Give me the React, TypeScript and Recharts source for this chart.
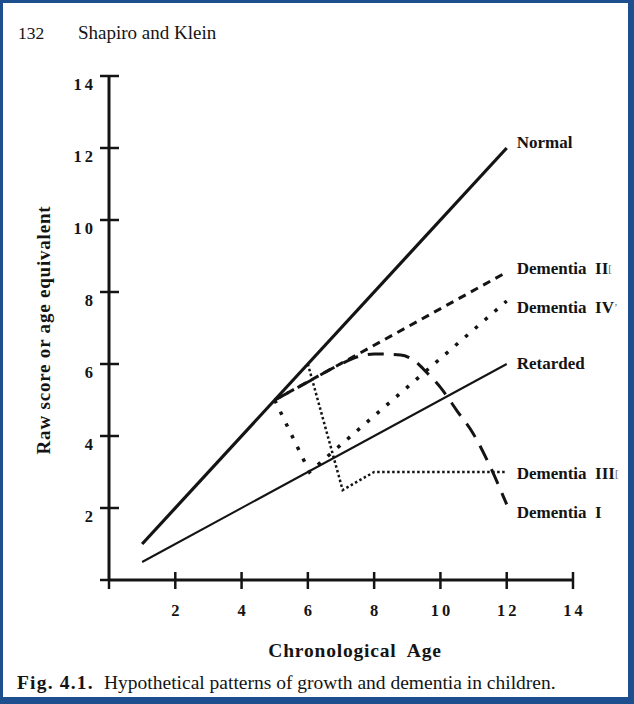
import React from 'react';
import { LineChart, Line, XAxis, YAxis } from 'recharts';

// ---- data ----
const xTicks = [0, 2, 4, 6, 8, 10, 12, 14];
const yTicks = [0, 2, 4, 6, 8, 10, 12, 14];

const normalAge = [1, 12];
const normalScore = [1, 12];

const retardedAge = [1, 12];
const retardedScore = [0.5, 6];

const dementia1Age = [5, 6, 7, 7.5, 8, 8.8, 9.2, 9.6, 10, 10.5, 11, 11.5, 12];
const dementia1Score = [5, 5.5, 6.0, 6.2, 6.28, 6.25, 6.1, 5.75, 5.35, 4.7, 4.05, 3.15, 2.1];

const dementia2Age = [5, 12];
const dementia2Score = [5, 8.55];

const dementia3Age = [6, 7.05, 8, 12];
const dementia3Score = [6, 2.5, 3, 3];

const dementia4Age = [5, 6.05, 12];
const dementia4Score = [5, 3, 7.75];

const toRows = (xs: number[], ys: number[]) => xs.map((x, i) => ({ x, y: ys[i] }));

const FONT = "'Liberation Serif', 'Times New Roman', serif";
const INK = '#141414';

const XTick = (props: any) => {
  const { x, y, payload } = props;
  const v = payload.value;
  return (
    <g>
      <line x1={x} x2={x} y1={v === 0 ? y : y - 8} y2={y + 9} stroke={INK} strokeWidth={2.5} />
      {v !== 0 && (
        <text x={x + 1.5} y={y + 36} textAnchor="middle" fontFamily={FONT} fontWeight="bold" fontSize={16.5} letterSpacing={3} fill={INK}>
          {String(v)}
        </text>
      )}
    </g>
  );
};

const YTick = (props: any) => {
  const { x, y, payload } = props;
  const v = payload.value;
  return (
    <g>
      <line x1={x - 9} x2={v === 0 ? x : x + 10} y1={y} y2={y} stroke={INK} strokeWidth={2.5} />
      {v !== 0 && (
        <text x={x - 13} y={y + 14} textAnchor="end" fontFamily={FONT} fontWeight="bold" fontSize={16.5} letterSpacing={3} fill={INK}>
          {String(v)}
        </text>
      )}
    </g>
  );
};

const endLabel = (text: string, extra: string, dy: number, n: number) => (props: any) => {
  const { index } = props;
  if (index !== n - 1) return null;
  const px = props.x ?? props.viewBox?.x;
  const py = props.y ?? props.viewBox?.y;
  return (
    <text x={px + 10} y={py + dy} dominantBaseline="central" fontFamily={FONT} fontWeight="bold" fontSize={17} fill={INK} style={{ whiteSpace: 'pre' }}>
      {text}
      {extra && (
        <tspan fontSize={11} fontWeight="normal" fill="#666">{extra}</tspan>
      )}
    </text>
  );
};

export default function App() {
  return (
    <div
      style={{
        position: 'absolute',
        left: 0,
        top: 0,
        width: 634,
        height: 704,
        background: '#fff',
        boxSizing: 'border-box',
        borderTop: '3px solid #1d4f8e',
        borderLeft: '3px solid #1d4f8e',
        borderRight: '6px solid #1d4f8e',
        borderBottom: '7px solid #1d4f8e',
        overflow: 'hidden',
      }}
    >
      <div style={{ position: 'absolute', left: -3, top: -3 }}>
        <LineChart width={634} height={704} margin={{ top: 76, right: 61, bottom: 84, left: 69 }}>
          <XAxis
            type="number"
            dataKey="x"
            domain={[0, 14]}
            ticks={xTicks}
            interval={0}
            height={40}
            tickSize={0}
            tickMargin={0}
            tickLine={false}
            axisLine={{ stroke: INK, strokeWidth: 3 }}
            tick={(p: any) => <XTick {...p} />}
            allowDataOverflow
          />
          <YAxis
            type="number"
            dataKey="y"
            domain={[0, 14]}
            ticks={yTicks}
            interval={0}
            width={40}
            tickSize={0}
            tickMargin={0}
            tickLine={false}
            axisLine={{ stroke: INK, strokeWidth: 3 }}
            tick={(p: any) => <YTick {...p} />}
            allowDataOverflow
          />
          <Line data={toRows(normalAge, normalScore)} dataKey="y" type="linear" stroke={INK} strokeWidth={3.2} dot={false} isAnimationActive={false} label={endLabel('Normal', '', -6, normalAge.length)} />
          <Line data={toRows(retardedAge, retardedScore)} dataKey="y" type="linear" stroke={INK} strokeWidth={2} dot={false} isAnimationActive={false} label={endLabel('Retarded', '', -1, retardedAge.length)} />
          <Line data={toRows(dementia2Age, dementia2Score)} dataKey="y" type="linear" stroke={INK} strokeWidth={3} strokeDasharray="8 6" dot={false} isAnimationActive={false} label={endLabel('Dementia  II', '[', -4, dementia2Age.length)} />
          <Line data={toRows(dementia1Age, dementia1Score)} dataKey="y" type="monotone" stroke={INK} strokeWidth={3} strokeDasharray="16 10" dot={false} isAnimationActive={false} label={endLabel('Dementia  I', '', 8, dementia1Age.length)} />
          <Line data={toRows(dementia3Age, dementia3Score)} dataKey="y" type="linear" stroke={INK} strokeWidth={2.5} strokeDasharray="2.5 2.5" dot={false} isAnimationActive={false} label={endLabel('Dementia  III', '[', 1, dementia3Age.length)} />
          <Line data={toRows(dementia4Age, dementia4Score)} dataKey="y" type="linear" stroke={INK} strokeWidth={3.5} strokeDasharray="3.5 9.5" dot={false} isAnimationActive={false} label={endLabel('Dementia  IV', '\u2019', 6, dementia4Age.length)} />
        </LineChart>
      </div>
      <svg width={634} height={704} style={{ position: 'absolute', left: -3, top: -3, pointerEvents: 'none' }}>
        <text x={18} y={39} fontFamily={FONT} fontSize={17.5} fill={INK}>132</text>
        <text x={78} y={39} fontFamily={FONT} fontSize={19} fill={INK}>Shapiro and Klein</text>
        <text
          x={43}
          y={330}
          transform="rotate(-90 43 330)"
          textAnchor="middle"
          dominantBaseline="central"
          fontFamily={FONT}
          fontWeight="bold"
          fontSize={19}
          letterSpacing={0.8}
          fill={INK}
          style={{ whiteSpace: 'pre' }}
        >
          Raw score or age equivalent
        </text>
        <text x={355} y={657} textAnchor="middle" fontFamily={FONT} fontWeight="bold" fontSize={19.5} letterSpacing={0.8} fill={INK} style={{ whiteSpace: 'pre' }}>
          {'Chronological  Age'}
        </text>
        <text x={17} y={689} fontFamily={FONT} fontWeight="bold" fontSize={19.5} letterSpacing={1.2} fill={INK}>Fig. 4.1.</text>
        <text x={104} y={689} fontFamily={FONT} fontSize={19.5} fill={INK}>Hypothetical patterns of growth and dementia in children.</text>
      </svg>
    </div>
  );
}
